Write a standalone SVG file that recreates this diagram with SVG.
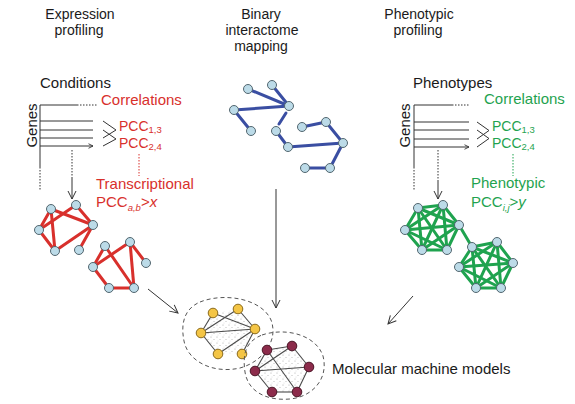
<svg xmlns="http://www.w3.org/2000/svg" width="575" height="404" viewBox="0 0 575 404">
<defs>
<style>
text{font-family:"Liberation Sans",Arial,sans-serif;}
.hd{font-size:14px;fill:#1a1a1a;text-anchor:middle;}
.lb{font-size:15px;fill:#1a1a1a;}
.pc{font-size:14px;}
.red{fill:#d8302c;}
.grn{fill:#1fa34f;}
.sub{font-size:9.5px;}
.ln{stroke:#333;stroke-width:1;fill:none;}
.dot{stroke:#333;stroke-width:1;stroke-dasharray:1.5 1.5;fill:none;}
.rdot{stroke:#d8302c;stroke-width:1;stroke-dasharray:1.5 1.5;fill:none;}
.gdot{stroke:#1fa34f;stroke-width:1;stroke-dasharray:1.5 1.5;fill:none;}
.re{stroke:#d8302c;stroke-width:3;stroke-linecap:round;}
.ge{stroke:#1fa34f;stroke-width:3;stroke-linecap:round;}
.be{stroke:#3a4ea2;stroke-width:3;stroke-linecap:round;}
.ke{stroke:#4a4a4a;stroke-width:1.1;}
.n{fill:#bcdbe8;stroke:#52666f;stroke-width:1;}
.ny{fill:#f4c545;stroke:#8a6a1c;stroke-width:1;}
.np{fill:#8c2b4b;stroke:#4a1425;stroke-width:1;}
.blob{fill:none;stroke:#555;stroke-width:1;stroke-dasharray:4 3;}
</style>
<marker id="ah" viewBox="0 0 10 10" refX="9" refY="5" markerWidth="10" markerHeight="10" markerUnits="userSpaceOnUse" orient="auto">
<path d="M1,1 L9,5 L1,9" fill="none" stroke="#333" stroke-width="1"/>
</marker>
<marker id="as" viewBox="0 0 8 8" refX="7" refY="4" markerWidth="6" markerHeight="6" markerUnits="userSpaceOnUse" orient="auto">
<path d="M1,1 L7,4 L1,7" fill="none" stroke="#333" stroke-width="1.2"/>
</marker>
<pattern id="stip" width="6" height="6" patternUnits="userSpaceOnUse">
<circle cx="1" cy="1" r="0.5" fill="#999"/>
<circle cx="4" cy="3.5" r="0.5" fill="#aaa"/>
<circle cx="2" cy="5" r="0.4" fill="#bbb"/>
</pattern>
</defs>
<rect width="575" height="404" fill="#fff"/>

<g id="headers">
<text class="hd" x="80" y="19">Expression</text>
<text class="hd" x="79" y="35">profiling</text>
<text class="hd" x="261" y="19">Binary</text>
<text class="hd" x="262" y="35">interactome</text>
<text class="hd" x="261" y="51">mapping</text>
<text class="hd" x="419" y="19">Phenotypic</text>
<text class="hd" x="418" y="35">profiling</text>
</g>

<g id="expression-panel">
<text class="lb" x="40" y="88">Conditions</text>
<text class="lb" transform="translate(37,125.5) rotate(-90)" text-anchor="middle">Genes</text>
<path class="ln" d="M40,105 H77 M40,105 V167"/>
<path class="dot" d="M77,105 H98 M40,167 V190"/>
<path class="ln" marker-end="url(#as)" d="M40,121 H93 M40,130 H93 M40,138 H93 M40,146 H93"/>
<path class="ln" d="M103,121 L116,130 L103,138 M103,130 L116,139 L103,146"/>
<text class="lb red" x="101" y="105">Correlations</text>
<text class="lb pc red" x="119" y="131">PCC<tspan class="sub" dy="2">1,3</tspan></text>
<text class="lb pc red" x="119" y="148">PCC<tspan class="sub" dy="2">2,4</tspan></text>
<path class="rdot" d="M139,154 V176"/>
<path class="dot" d="M72,150 V178"/>
<path class="ln" marker-end="url(#ah)" d="M72,178 V199"/>
<text class="lb red" x="96" y="189">Transcriptional</text>
<text class="lb red" x="96" y="207">PCC<tspan class="sub" dy="4" font-style="italic">a,b</tspan><tspan dy="-4">&gt;</tspan><tspan font-style="italic">x</tspan></text>
</g>

<g id="phenotypic-panel">
<text class="lb" x="413" y="88">Phenotypes</text>
<text class="lb" transform="translate(410,125.5) rotate(-90)" text-anchor="middle">Genes</text>
<path class="ln" d="M414,105 H452 M414,105 V167"/>
<path class="dot" d="M452,105 H470 M414,167 V190"/>
<path class="ln" marker-end="url(#as)" d="M414,122 H469 M414,130 H469 M414,139 H469 M414,147 H469"/>
<path class="ln" d="M477,122 L489,130.5 L477,139 M477,130 L489,138.5 L477,147"/>
<text class="lb grn" x="484" y="104">Correlations</text>
<text class="lb pc grn" x="492" y="131">PCC<tspan class="sub" dy="2">1,3</tspan></text>
<text class="lb pc grn" x="492" y="148">PCC<tspan class="sub" dy="2">2,4</tspan></text>
<path class="gdot" d="M513,154 V176"/>
<path class="dot" d="M438,150 V180"/>
<path class="ln" marker-end="url(#ah)" d="M438,180 V199"/>
<text class="lb grn" x="471" y="188">Phenotypic</text>
<text class="lb grn" x="471" y="207">PCC<tspan class="sub" dy="4" font-style="italic">i,j</tspan><tspan dy="-4">&gt;</tspan><tspan font-style="italic">y</tspan></text>
</g>

<g id="connectors">
<path class="ln" marker-end="url(#ah)" d="M148,289 L178,313"/>
<path class="ln" marker-end="url(#ah)" d="M276,189 V308"/>
<path class="ln" marker-end="url(#ah)" d="M413,296 L388,324"/>
</g>

<g id="red-network-1">
<g class="re">
<line x1="51" y1="209" x2="39" y2="230"/>
<line x1="51" y1="209" x2="93" y2="225"/>
<line x1="51" y1="209" x2="55" y2="251"/>
<line x1="39" y1="230" x2="76" y2="205"/>
<line x1="76" y1="205" x2="93" y2="225"/>
<line x1="39" y1="230" x2="55" y2="251"/>
<line x1="55" y1="251" x2="93" y2="225"/>
<line x1="93" y1="225" x2="79" y2="250"/>
</g>
<circle class="n" cx="51" cy="209" r="4.5"/>
<circle class="n" cx="76" cy="205" r="4.5"/>
<circle class="n" cx="93" cy="225" r="4.5"/>
<circle class="n" cx="39" cy="230" r="4.5"/>
<circle class="n" cx="55" cy="251" r="4.5"/>
<circle class="n" cx="79" cy="250" r="4.5"/>
</g>

<g id="red-network-2">
<g class="re">
<line x1="105" y1="246" x2="93" y2="267"/>
<line x1="93" y1="267" x2="130" y2="242"/>
<line x1="105" y1="246" x2="134" y2="288"/>
<line x1="130" y1="242" x2="134" y2="288"/>
<line x1="130" y1="242" x2="146" y2="263"/>
<line x1="93" y1="267" x2="109" y2="288"/>
<line x1="109" y1="288" x2="134" y2="288"/>
</g>
<circle class="n" cx="105" cy="246" r="4.5"/>
<circle class="n" cx="130" cy="242" r="4.5"/>
<circle class="n" cx="146" cy="263" r="4.5"/>
<circle class="n" cx="93" cy="267" r="4.5"/>
<circle class="n" cx="109" cy="288" r="4.5"/>
<circle class="n" cx="134" cy="288" r="4.5"/>
</g>

<g id="blue-network">
<g class="be">
<line x1="248" y1="89" x2="289" y2="106"/>
<line x1="272" y1="85" x2="289" y2="106"/>
<line x1="234" y1="110" x2="289" y2="106"/>
<line x1="234" y1="110" x2="251" y2="131"/>
<line x1="286" y1="113" x2="279" y2="124"/>
<line x1="276" y1="131" x2="288" y2="147"/>
<line x1="288" y1="147" x2="343" y2="143"/>
<line x1="302" y1="127" x2="326" y2="122"/>
<line x1="326" y1="122" x2="343" y2="143"/>
<line x1="343" y1="143" x2="330" y2="168"/>
<line x1="330" y1="168" x2="305" y2="168"/>
</g>
<circle class="n" cx="248" cy="89" r="4.5"/>
<circle class="n" cx="272" cy="85" r="4.5"/>
<circle class="n" cx="289" cy="106" r="4.5"/>
<circle class="n" cx="234" cy="110" r="4.5"/>
<circle class="n" cx="251" cy="131" r="4.5"/>
<circle class="n" cx="276" cy="131" r="4.5"/>
<circle class="n" cx="288" cy="147" r="4.5"/>
<circle class="n" cx="302" cy="127" r="4.5"/>
<circle class="n" cx="326" cy="122" r="4.5"/>
<circle class="n" cx="343" cy="143" r="4.5"/>
<circle class="n" cx="305" cy="168" r="4.5"/>
<circle class="n" cx="330" cy="168" r="4.5"/>
</g>

<g id="green-network-1">
<g class="ge">
<line x1="418" y1="208" x2="443" y2="205"/>
<line x1="418" y1="208" x2="459" y2="225"/>
<line x1="418" y1="208" x2="405" y2="230"/>
<line x1="418" y1="208" x2="422" y2="250"/>
<line x1="418" y1="208" x2="447" y2="250"/>
<line x1="443" y1="205" x2="459" y2="225"/>
<line x1="443" y1="205" x2="405" y2="230"/>
<line x1="443" y1="205" x2="422" y2="250"/>
<line x1="443" y1="205" x2="447" y2="250"/>
<line x1="459" y1="225" x2="405" y2="230"/>
<line x1="459" y1="225" x2="422" y2="250"/>
<line x1="459" y1="225" x2="447" y2="250"/>
<line x1="405" y1="230" x2="422" y2="250"/>
<line x1="405" y1="230" x2="447" y2="250"/>
<line x1="422" y1="250" x2="447" y2="250"/>
<line x1="459" y1="225" x2="472" y2="247"/>
</g>
<circle class="n" cx="418" cy="208" r="4.5"/>
<circle class="n" cx="443" cy="205" r="4.5"/>
<circle class="n" cx="459" cy="225" r="4.5"/>
<circle class="n" cx="405" cy="230" r="4.5"/>
<circle class="n" cx="422" cy="250" r="4.5"/>
<circle class="n" cx="447" cy="250" r="4.5"/>
</g>

<g id="green-network-2">
<g class="ge">
<line x1="472" y1="247" x2="497" y2="242"/>
<line x1="472" y1="247" x2="513" y2="263"/>
<line x1="472" y1="247" x2="459" y2="267"/>
<line x1="472" y1="247" x2="476" y2="288"/>
<line x1="472" y1="247" x2="501" y2="288"/>
<line x1="497" y1="242" x2="513" y2="263"/>
<line x1="497" y1="242" x2="459" y2="267"/>
<line x1="497" y1="242" x2="476" y2="288"/>
<line x1="497" y1="242" x2="501" y2="288"/>
<line x1="513" y1="263" x2="459" y2="267"/>
<line x1="513" y1="263" x2="476" y2="288"/>
<line x1="513" y1="263" x2="501" y2="288"/>
<line x1="459" y1="267" x2="476" y2="288"/>
<line x1="459" y1="267" x2="501" y2="288"/>
<line x1="476" y1="288" x2="501" y2="288"/>
</g>
<circle class="n" cx="472" cy="247" r="4.5"/>
<circle class="n" cx="497" cy="242" r="4.5"/>
<circle class="n" cx="513" cy="263" r="4.5"/>
<circle class="n" cx="459" cy="267" r="4.5"/>
<circle class="n" cx="476" cy="288" r="4.5"/>
<circle class="n" cx="501" cy="288" r="4.5"/>
</g>

<g id="machine-yellow">
<path class="blob" d="M200,302 C225,292 262,299 271,320 C279,341 262,362 240,368 C214,374 188,362 184,341 C180,321 186,308 200,302 Z"/>
<polygon points="238,309 255,329 242,354 218,354 201,333 213,313" fill="url(#stip)"/>
<g class="ke">
<line x1="213" y1="313" x2="201" y2="333"/>
<line x1="201" y1="333" x2="238" y2="309"/>
<line x1="213" y1="313" x2="255" y2="329"/>
<line x1="238" y1="309" x2="255" y2="329"/>
<line x1="201" y1="333" x2="255" y2="329"/>
<line x1="201" y1="333" x2="218" y2="354"/>
<line x1="218" y1="354" x2="255" y2="329"/>
<line x1="255" y1="329" x2="242" y2="354"/>
</g>
<circle class="ny" cx="213" cy="313" r="4.8"/>
<circle class="ny" cx="238" cy="309" r="4.8"/>
<circle class="ny" cx="255" cy="329" r="4.8"/>
<circle class="ny" cx="201" cy="333" r="4.8"/>
<circle class="ny" cx="218" cy="354" r="4.8"/>
<circle class="ny" cx="242" cy="354" r="4.8"/>
</g>

<g id="machine-purple">
<path class="blob" d="M262,335 C286,327 316,335 323,356 C329,379 312,397 290,399 C267,401 248,392 245,372 C242,352 247,341 262,335 Z"/>
<polygon points="267,350 292,346 309,367 297,392 272,392 255,371" fill="url(#stip)"/>
<g class="ke">
<line x1="267" y1="350" x2="292" y2="346"/>
<line x1="267" y1="350" x2="255" y2="371"/>
<line x1="255" y1="371" x2="292" y2="346"/>
<line x1="267" y1="350" x2="297" y2="392"/>
<line x1="292" y1="346" x2="309" y2="367"/>
<line x1="255" y1="371" x2="309" y2="367"/>
<line x1="255" y1="371" x2="272" y2="392"/>
<line x1="272" y1="392" x2="297" y2="392"/>
<line x1="297" y1="392" x2="309" y2="367"/>
</g>
<circle class="np" cx="267" cy="350" r="4.8"/>
<circle class="np" cx="292" cy="346" r="4.8"/>
<circle class="np" cx="309" cy="367" r="4.8"/>
<circle class="np" cx="255" cy="371" r="4.8"/>
<circle class="np" cx="272" cy="392" r="4.8"/>
<circle class="np" cx="297" cy="392" r="4.8"/>
</g>

<g id="label-models">
<text class="lb" x="332" y="374">Molecular machine models</text>
</g>
</svg>
